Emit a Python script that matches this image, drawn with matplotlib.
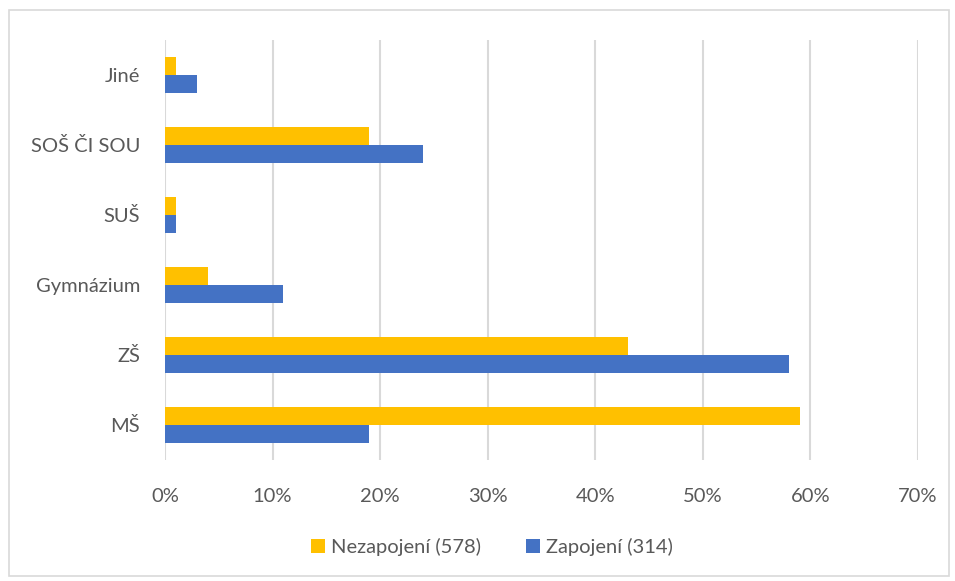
import matplotlib.pyplot as plt
import numpy as np
from matplotlib.patches import Rectangle
from matplotlib.ticker import PercentFormatter

categories = ["MŠ", "ZŠ", "Gymnázium", "SUŠ", "SOŠ ČI SOU", "Jiné"]
nezapojeni = [59, 43, 4, 1, 19, 1]
zapojeni = [19, 58, 11, 1, 24, 3]
series_labels = ["Nezapojení (578)", "Zapojení (314)"]

plt.rcParams["font.family"] = ["Lato", "DejaVu Sans"]
TEXT = "#595959"

fig = plt.figure(figsize=(9.55, 5.81), dpi=100)
ax = fig.add_axes([0.1728, 0.2083, 0.7885, 0.7229])

y = np.arange(len(categories))
h = 0.257
ax.barh(y + h / 2, nezapojeni, height=h, color="#FFC000", label=series_labels[0], zorder=3)
ax.barh(y - h / 2, zapojeni, height=h, color="#4472C4", label=series_labels[1], zorder=3)

ax.set_xlim(0, 70)
ax.set_ylim(-0.5, len(categories) - 0.5)
ax.set_xticks(range(0, 71, 10))
ax.xaxis.set_major_formatter(PercentFormatter(decimals=0))
ax.set_yticks(y)
ax.set_yticklabels(categories)
ax.grid(axis="x", color="#D9D9D9", linewidth=1.5, zorder=0)
for s in ax.spines.values():
    s.set_visible(False)
ax.tick_params(length=0, labelsize=14.5, colors=TEXT)
ax.tick_params(axis="x", pad=20)
ax.tick_params(axis="y", pad=18)

leg = fig.legend(loc="center", bbox_to_anchor=(0.515, 0.058), ncol=2, frameon=False,
                 fontsize=14.5, handlelength=0.7, handleheight=0.7, columnspacing=2.2,
                 handletextpad=0.3)
for t in leg.get_texts():
    t.set_color(TEXT)

fig.patches.append(Rectangle((0.009, 0.008), 0.985, 0.975, transform=fig.transFigure,
                             fill=False, edgecolor="#D9D9D9", linewidth=1.2))

fig.savefig("out.png", dpi=100)
